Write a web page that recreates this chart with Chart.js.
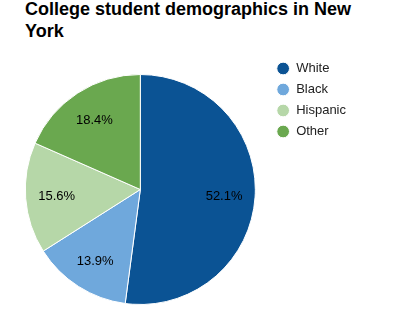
<!DOCTYPE html>
<html lang="en">
<head>
  <meta charset="UTF-8">
  <title>College student demographics in New York</title>
  <style>
    html, body { margin: 0; padding: 0; background: #fff; }
    .wrap { position: relative; width: 393px; height: 330px; overflow: hidden; }
    .chart-title {
      position: absolute;
      left: 25px;
      top: -2px;
      width: 345px;
      margin: 0;
      font: bold 18px/22px "Liberation Sans", Arial, sans-serif;
      color: #000;
    }
    canvas { position: absolute; left: 0; top: 0; }
  </style>
</head>
<body>
  <div class="wrap">
    <h1 class="chart-title">College student demographics in New York</h1>
    <canvas id="pie" width="393" height="330"></canvas>
  </div>
  <script src="https://cdn.jsdelivr.net/npm/chart.js@4.4.0/dist/chart.umd.min.js"></script>
  <script>
  const categories = ['White', 'Black', 'Hispanic', 'Other'];
  const shares = [52.1, 13.9, 15.6, 18.4];
  const sliceColors = ['#0b5394', '#6fa8dc', '#b6d7a8', '#6aa84f'];

  // percentage text inside each slice, a bit outside the middle of the radius
  const sliceLabels = {
    id: 'sliceLabels',
    afterDatasetsDraw(chart) {
      const ctx = chart.ctx;
      const meta = chart.getDatasetMeta(0);
      ctx.save();
      ctx.font = '13px "Liberation Sans", Arial, sans-serif';
      ctx.fillStyle = '#000';
      ctx.textAlign = 'center';
      ctx.textBaseline = 'middle';
      meta.data.forEach((arc, i) => {
        const mid = (arc.startAngle + arc.endAngle) / 2;
        const r = arc.outerRadius * 0.73;
        ctx.fillText(shares[i].toFixed(1) + '%', arc.x + Math.cos(mid) * r, arc.y + Math.sin(mid) * r + 1);
      });
      ctx.restore();
    }
  };

  new Chart(document.getElementById('pie'), {
    type: 'pie',
    data: {
      labels: categories,
      datasets: [{
        data: shares,
        backgroundColor: sliceColors,
        borderColor: '#fff',
        borderWidth: 1,
        radius: 115
      }]
    },
    options: {
      responsive: false,
      animation: false,
      devicePixelRatio: 1,
      layout: {
        padding: { top: 54, left: 12, right: 37, bottom: 5 }
      },
      plugins: {
        tooltip: { enabled: false },
        legend: {
          position: 'right',
          align: 'start',
          labels: {
            usePointStyle: true,
            pointStyle: 'circle',
            boxHeight: 9,
            padding: 8,
            color: '#222',
            font: { family: '"Liberation Sans", Arial, sans-serif', size: 13 }
          }
        }
      }
    },
    plugins: [sliceLabels]
  });
  </script>
</body>
</html>
